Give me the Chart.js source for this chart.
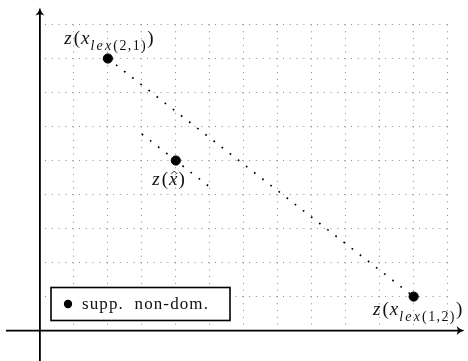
<!DOCTYPE html>
<html>
<head>
<meta charset="utf-8">
<script src="https://cdn.jsdelivr.net/npm/chart.js@4/dist/chart.umd.min.js"></script>
<style>
  html, body { margin: 0; padding: 0; background: #fff; }
  canvas { display: block; }
</style>
</head>
<body>
<canvas id="chart" width="468" height="361"></canvas>
<script>
// supported non-dominated points in objective space
const pointX = [2, 4, 11];
const pointY = [8, 5, 1];
const pointSub = ['lex(2,1)', 'hat', 'lex(1,2)'];

// segment joining the two lexicographic optima
const hullX = [2, 11];
const hullY = [8, 1];

// parallel level line through z(x^)
const levelX = [3, 5];
const levelY = [5.78, 4.22];

// grid positions
const xGrid = [1, 2, 3, 4, 5, 6, 7, 8, 9, 10, 11, 12];
const yGrid = [1, 2, 3, 4, 5, 6, 7, 8, 9];

// axis arrow extents (data units)
const xAxisSpan = [-1.0, 12.5];
const yAxisSpan = [-0.95, 9.5];

const legendText = 'supp.  non-dom.';

const toXY = (xs, ys) => xs.map((x, i) => ({ x, y: ys[i] }));

const serif = '"Liberation Serif", "DejaVu Serif", serif';
const mathFont = 'italic 19px ' + serif;
const mathRoman = '19px ' + serif;
const subItalic = 'italic 14px ' + serif;
const subRoman = '14px ' + serif;

function drawRich(ctx, parts, x, y, align) {
  let w = 0;
  parts.forEach(p => {
    ctx.font = p.font;
    ctx.letterSpacing = (p.ls || 0) + 'px';
    p.w = ctx.measureText(p.t).width;
    w += p.w;
  });
  let cx = align === 'center' ? x - w / 2 : align === 'right' ? x - w : x;
  parts.forEach(p => {
    ctx.font = p.font;
    ctx.letterSpacing = (p.ls || 0) + 'px';
    ctx.fillText(p.t, cx, y + (p.dy || 0));
    p.x = cx;
    cx += p.w;
  });
  ctx.letterSpacing = '0px';
  return parts;
}

function subParts(sub) {
  // "lex" italic, "(2,1)" upright
  return [
    { t: 'z', font: mathFont, ls: 2 },
    { t: '(', font: mathRoman, ls: 1 },
    { t: 'x', font: mathFont, ls: 1 },
    { t: 'lex', font: subItalic, dy: 6, ls: 2.2 },
    { t: sub.slice(3), font: subRoman, dy: 6, ls: 1.4 },
    { t: ')', font: mathRoman }
  ];
}

function arrowHead(ctx, x, y, dir) {
  // dir: 'up' or 'right'
  ctx.save();
  ctx.translate(x, y);
  if (dir === 'right') ctx.rotate(Math.PI / 2);
  ctx.beginPath();
  ctx.moveTo(0, 0);
  ctx.quadraticCurveTo(1, 5, 4.5, 8);
  ctx.lineTo(0, 6.5);
  ctx.lineTo(-4.5, 8);
  ctx.quadraticCurveTo(-1, 5, 0, 0);
  ctx.closePath();
  ctx.fill();
  ctx.restore();
}

const decorations = {
  id: 'decorations',
  afterDatasetsDraw(chart) {
    const { ctx, chartArea } = chart;
    const xs = chart.scales.x, ys = chart.scales.y;
    const ox = xs.getPixelForValue(0), oy = ys.getPixelForValue(0);

    ctx.save();
    ctx.fillStyle = '#000';
    ctx.strokeStyle = '#000';

    // axes with arrows
    ctx.lineWidth = 1.8;
    ctx.beginPath();
    ctx.moveTo(ox, ys.getPixelForValue(yAxisSpan[0]));
    ctx.lineTo(ox, ys.getPixelForValue(yAxisSpan[1]) + 4);
    ctx.moveTo(xs.getPixelForValue(xAxisSpan[0]), oy);
    ctx.lineTo(xs.getPixelForValue(xAxisSpan[1]) - 4, oy);
    ctx.stroke();
    arrowHead(ctx, ox, ys.getPixelForValue(yAxisSpan[1]), 'up');
    arrowHead(ctx, xs.getPixelForValue(xAxisSpan[1]), oy, 'right');

    // point labels
    ctx.textBaseline = 'alphabetic';
    ctx.fillStyle = '#111';
    pointX.forEach((vx, i) => {
      const px = xs.getPixelForValue(vx), py = ys.getPixelForValue(pointY[i]);
      if (pointSub[i] === 'hat') {
        const base = py + 24;
        const parts = drawRich(ctx, [
          { t: 'z', font: mathFont, ls: 2 },
          { t: '(', font: mathRoman, ls: 1 },
          { t: 'x', font: mathFont, ls: 1 },
          { t: ')', font: mathRoman }
        ], px + 9, base, 'right');
        // circumflex over x
        const hx = parts[2].x + parts[2].w / 2 + 0.5;
        const hy = base - 13;
        ctx.lineWidth = 0.9;
        ctx.strokeStyle = '#111';
        ctx.beginPath();
        ctx.moveTo(hx - 3, hy + 2.5);
        ctx.lineTo(hx, hy - 0.5);
        ctx.lineTo(hx + 3, hy + 2.5);
        ctx.stroke();
      } else if (i === 0) {
        drawRich(ctx, subParts(pointSub[i]), px + 1, py - 15, 'center');
      } else {
        drawRich(ctx, subParts(pointSub[i]), px + 4, py + 18, 'center');
      }
    });

    // legend box
    const bx = chartArea.left + 6, by = chartArea.bottom - 38;
    const bw = 179, bh = 33;
    ctx.fillStyle = '#fff';
    ctx.fillRect(bx, by, bw, bh);
    ctx.lineWidth = 1.6;
    ctx.strokeStyle = '#000';
    ctx.strokeRect(bx, by, bw, bh);
    ctx.fillStyle = '#000';
    ctx.beginPath();
    ctx.arc(bx + 17, by + bh / 2, 4.2, 0, Math.PI * 2);
    ctx.fill();
    ctx.fillStyle = '#111';
    ctx.font = '17px ' + serif;
    ctx.letterSpacing = '1.1px';
    ctx.textBaseline = 'middle';
    ctx.fillText(legendText, bx + 31, by + bh / 2 + 0.5);
    ctx.letterSpacing = '0px';

    ctx.restore();
  }
};

const dottedLine = {
  showLine: true,
  pointRadius: 0,
  borderColor: '#000',
  borderWidth: 1.7,
  borderDash: [1.7, 8.6],
  fill: false
};

new Chart(document.getElementById('chart'), {
  type: 'scatter',
  data: {
    datasets: [
      {
        label: legendText,
        data: toXY(pointX, pointY),
        backgroundColor: '#000',
        borderColor: '#000',
        pointRadius: 4.6,
        pointHoverRadius: 4.6
      },
      Object.assign({ label: 'hull', data: toXY(hullX, hullY) }, dottedLine),
      Object.assign({ label: 'level', data: toXY(levelX, levelY) }, dottedLine)
    ]
  },
  options: {
    responsive: false,
    animation: false,
    events: [],
    layout: { padding: { left: 45, right: 17, top: 24.5, bottom: 35.5 } },
    plugins: {
      legend: { display: false },
      tooltip: { enabled: false }
    },
    scales: {
      x: {
        type: 'linear',
        min: 0.15,
        max: 12.1,
        afterBuildTicks: s => { s.ticks = xGrid.map(v => ({ value: v })); },
        ticks: { display: false },
        grid: { color: '#8a8a8a', lineWidth: 1, drawTicks: false },
        border: { display: false, dash: [1, 5.8] }
      },
      y: {
        type: 'linear',
        min: 0.15,
        max: 9,
        afterBuildTicks: s => { s.ticks = yGrid.map(v => ({ value: v })); },
        ticks: { display: false },
        grid: { color: '#8a8a8a', lineWidth: 1, drawTicks: false },
        border: { display: false, dash: [1, 5.8] }
      }
    }
  },
  plugins: [decorations]
});
</script>
</body>
</html>
